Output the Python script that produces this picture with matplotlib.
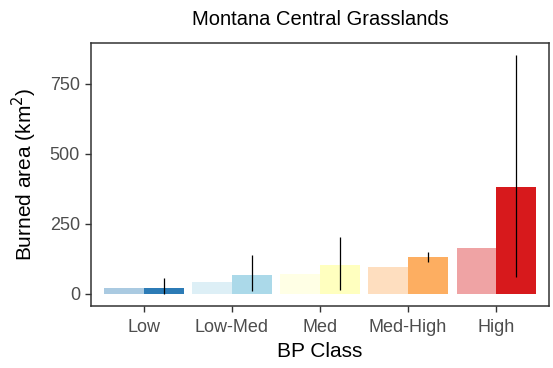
import matplotlib
matplotlib.use("Agg")
import matplotlib.pyplot as plt  # noqa: E402
from matplotlib.colors import to_rgba  # noqa: E402

plt.rcParams.update({"font.family": ["Liberation Sans", "DejaVu Sans"]})

classes = ["Low", "Low-Med", "Med", "Med-High", "High"]
colors = ["#2c7bb6", "#abd9e9", "#ffffbf", "#fdae61", "#d7191c"]
expected = [21, 41, 71, 96, 163]      # faded (left) bars
observed = [21, 69, 102, 131, 383]    # solid (right) bars
err_lo = [0, 12, 13, 114, 62]
err_hi = [56, 140, 204, 149, 854]

GREY = "#4d4d4d"
fig = plt.figure(figsize=(5.53, 3.68), dpi=100)
ax = fig.add_axes([0.1646, 0.1685, 0.8282, 0.7147])

x = range(1, len(classes) + 1)
w = 0.45
ax.bar([i - w / 2 for i in x], expected, w, color=[to_rgba(c, 0.4) for c in colors],
       linewidth=0)
ax.bar([i + w / 2 for i in x], observed, w, color=colors, linewidth=0)
ax.vlines([i + w / 2 for i in x], err_lo, err_hi, color="black", linewidth=0.9)

ax.set_xlim(0.4, 5.6)
ax.set_ylim(-43, 896)
ax.set_yticks([0, 250, 500, 750])
ax.set_xticks(list(x))
ax.set_xticklabels(classes)
ax.tick_params(colors="#333333", labelcolor=GREY, labelsize=13, length=4.5, width=1)
ax.tick_params(axis="x", pad=5)
for s in ax.spines.values():
    s.set_color("#333333"); s.set_linewidth(1.1)

ax.set_xlabel("BP Class", fontsize=15, labelpad=4)
ax.set_ylabel("Burned area (km$^2$)", fontsize=15, labelpad=8)
ax.set_title("Montana Central Grasslands", fontsize=14.5, pad=13)

fig.savefig("out.png")
